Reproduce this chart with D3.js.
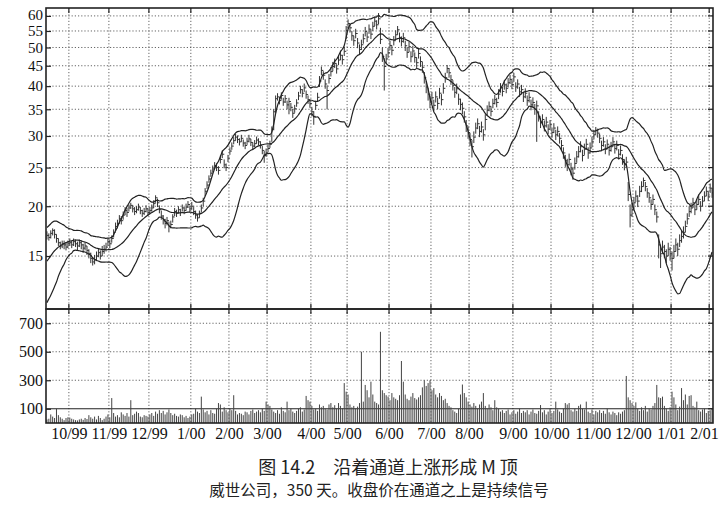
<!DOCTYPE html>
<html><head><meta charset="utf-8">
<script src="https://cdn.jsdelivr.net/npm/d3@7"></script>
<style>body{margin:0;background:#fff}</style>
</head><body><svg id="c" width="725" height="508"></svg>
<script>
const monthLabels = ["10/99","11/99","12/99","1/00","2/00","3/00","4/00","5/00","6/00","7/00","8/00","9/00","10/00","11/00","12/00","1/01","2/01"];
const monthDays = [12,33,54,76,96,116,139,158,180,202,222,245,265,287,308,328,348];
const priceTicks = [15,20,25,30,35,40,45,50,55,60];
const volumeTicks = [100,300,500,700];
const titleText = "图 14.2　沿着通道上涨形成 M 顶";
const subtitleText = "威世公司，350 天。收盘价在通道之上是持续信号";
// closes of the 19 days before the window (seed the 20-day bands)
const preClose = [12.4,12.6,12.5,12.9,13.2,13.0,13.5,13.8,14.2,14.0,14.6,15.0,15.3,15.1,15.8,16.2,16.5,16.8,17.2];
const close = [
16.9,16.7,17.1,17.4,17.0,16.6,16.2,15.9,16.1,16.0,15.8,16.1,16.2,16.0,16.3,16.1,15.9,16.2,16.0,15.7,15.9,
15.5,15.2,14.8,14.5,14.7,15.0,15.3,15.0,15.4,15.6,15.8,16.3,16.1,16.6,17.2,17.8,18.1,18.6,18.4,19.0,19.5,19.3,
19.8,20.1,19.7,19.4,19.6,19.9,19.5,19.2,19.4,19.7,19.3,19.5,19.8,20.3,21.0,20.4,19.6,18.9,18.5,18.1,18.4,17.8,18.0,
18.8,19.4,19.2,19.6,19.3,19.8,19.5,19.9,20.2,19.7,20.0,19.4,19.0,18.7,19.2,19.8,20.6,21.8,22.6,23.4,24.2,24.8,25.3,
25.0,24.6,26.2,27.0,25.4,25.0,26.4,27.5,28.3,29.2,29.8,29.4,29.0,29.6,28.8,28.4,29.1,29.5,28.9,28.3,28.7,29.3,29.0,28.5,
27.6,26.8,27.2,27.9,28.6,31.2,34.5,37.2,37.6,36.8,37.9,36.5,37.2,35.9,36.6,35.4,34.2,35.1,36.3,
37.8,39.2,38.4,39.6,38.1,37.0,36.2,34.5,33.6,35.8,37.5,41.2,43.8,42.6,40.5,39.0,41.8,
43.5,44.8,45.6,44.2,46.5,47.8,46.6,48.9,55.2,57.4,56.0,53.5,52.0,54.2,51.3,49.4,50.8,52.6,
54.8,53.1,55.6,54.0,56.5,58.2,57.0,59.0,52.4,47.5,44.8,46.8,48.5,50.6,49.2,52.0,53.8,
55.4,53.0,51.8,52.9,50.5,48.6,50.2,47.4,49.0,47.2,45.8,48.3,46.1,44.6,42.0,39.8,38.2,36.5,37.4,
35.8,37.6,36.2,38.4,37.0,39.5,42.0,44.3,43.2,41.5,40.2,38.6,39.4,37.1,36.0,35.2,33.5,31.8,30.6,29.4,28.2,
29.8,31.4,32.2,30.8,31.6,30.2,33.0,34.8,35.6,34.6,36.2,37.0,36.4,38.2,39.6,38.8,40.3,39.5,40.8,41.6,40.4,42.2,
39.8,40.5,38.7,39.2,37.6,38.4,36.8,37.5,35.9,36.4,35.0,35.7,33.6,32.4,33.0,31.8,32.5,
31.2,32.0,30.6,31.4,30.2,30.8,29.6,28.4,27.2,26.0,25.4,26.2,24.8,24.2,25.6,26.6,
27.4,28.2,26.8,27.8,28.6,27.2,28.0,29.0,30.2,31.0,30.5,29.6,28.4,29.0,27.8,28.6,27.6,28.2,29.0,27.9,28.4,
27.0,27.6,26.2,25.4,25.8,21.4,19.0,19.6,20.4,21.2,20.6,21.8,22.4,23.2,22.4,21.6,21.0,20.2,20.8,19.6,18.8,
16.0,15.2,15.8,15.4,15.0,15.6,15.2,14.8,15.4,16.0,15.6,16.4,16.8,17.2,17.8,18.6,19.4,
19.8,20.4,19.6,20.2,20.8,20.0,20.6,21.2,21.8,21.2,22.2,21.6];
const high = [
17.3,17.1,17.4,17.6,17.5,17.0,16.6,16.3,16.4,16.4,16.2,16.4,16.6,16.4,16.6,16.5,16.3,16.5,16.4,16.1,16.2,
15.9,15.6,15.3,14.9,15.1,15.4,15.7,15.5,15.9,16.0,16.2,16.6,16.5,16.9,17.5,18.2,18.5,19.0,18.9,19.4,19.9,19.8,
20.2,20.4,20.1,19.9,20.0,20.3,19.9,19.6,19.8,20.1,19.8,19.9,20.2,20.7,21.3,20.9,20.1,19.5,19.0,18.6,18.8,18.3,18.4,
19.1,19.8,19.6,20.0,19.7,20.2,19.9,20.3,20.6,20.1,20.5,19.9,19.5,19.1,19.5,20.2,21.0,22.2,23.1,23.9,24.7,25.3,25.8,
25.6,25.2,26.8,27.6,26.2,25.6,26.9,28.1,28.9,29.8,30.4,30.1,29.6,30.2,29.4,29.0,29.7,30.2,29.5,28.9,29.3,29.9,29.6,29.1,
28.3,27.5,27.9,28.5,29.2,31.7,35.0,37.9,38.4,37.6,38.6,37.4,38.0,36.8,37.4,36.3,35.1,35.9,37.1,
38.7,40.1,39.3,40.6,39.0,37.9,37.1,35.5,34.6,36.8,38.5,42.4,44.8,43.6,41.6,40.2,42.9,
44.7,46.0,46.9,45.4,47.8,49.1,47.9,50.2,56.6,58.8,57.5,55.0,53.5,55.7,52.8,50.9,52.3,54.1,
56.3,54.6,57.1,55.5,58.0,59.8,58.5,61.0,56.0,50.0,47.0,48.2,49.9,52.0,50.6,53.4,55.2,
56.6,54.5,53.3,54.4,52.0,50.1,51.7,48.9,50.5,48.6,47.2,49.7,47.5,46.0,43.4,41.2,39.6,37.8,38.7,
37.0,38.8,37.4,39.6,38.2,40.7,43.2,45.2,44.4,42.7,41.4,39.8,40.6,38.3,37.2,36.4,34.6,32.9,31.7,30.5,29.3,
30.8,32.4,33.2,31.8,32.6,31.2,34.0,35.8,36.6,35.6,37.2,38.0,37.4,39.3,40.7,39.9,41.4,40.6,41.9,42.7,41.5,43.2,
40.9,41.6,39.8,40.3,38.7,39.5,37.9,38.6,37.0,37.5,36.1,36.8,34.6,33.4,34.0,32.8,33.5,
32.1,32.9,31.5,32.3,31.1,31.7,30.5,29.3,28.1,26.9,26.3,27.1,25.7,25.1,26.5,27.5,
28.3,29.1,27.7,28.7,29.5,28.1,28.9,29.9,31.0,31.6,31.3,30.4,29.2,29.8,28.6,29.4,28.4,29.0,29.8,28.7,29.2,
27.8,28.4,27.0,26.2,26.6,23.0,20.2,20.4,21.1,21.9,21.3,22.5,23.1,23.6,23.0,22.2,21.6,20.8,21.4,20.2,19.4,
17.0,16.0,16.4,16.0,15.6,16.2,15.8,15.4,16.0,16.6,16.2,17.0,17.4,17.8,18.4,19.2,20.0,
20.4,21.0,20.2,20.8,21.4,20.6,21.2,21.8,22.4,21.8,22.8,22.2];
const low = [
16.5,16.4,16.6,16.9,16.6,16.2,15.9,15.6,15.7,15.6,15.5,15.7,15.9,15.7,15.9,15.8,15.5,15.8,15.6,15.3,15.5,
15.1,14.8,14.4,14.2,14.3,14.6,14.9,14.7,15.0,15.2,15.4,15.9,15.7,16.2,16.7,17.3,17.6,18.1,18.0,18.5,19.0,18.8,
19.4,19.7,19.3,19.0,19.2,19.5,19.1,18.8,19.0,19.3,18.9,19.1,19.4,19.8,20.4,19.9,19.2,18.5,18.0,17.6,17.9,17.2,17.6,
18.2,18.9,18.8,19.2,18.9,19.4,19.1,19.5,19.8,19.3,19.6,19.0,18.6,18.3,18.7,19.3,20.0,21.2,22.1,22.9,23.7,24.3,24.8,
24.5,24.0,25.6,26.4,24.9,24.5,25.8,26.9,27.7,28.6,29.2,28.8,28.4,29.0,28.2,27.8,28.5,28.9,28.3,27.7,28.1,28.7,28.4,27.9,
27.0,25.7,26.6,27.3,28.0,29.0,31.0,34.3,36.8,36.0,37.0,35.7,36.3,35.0,34.0,34.6,33.3,34.3,35.5,
36.9,38.3,37.5,38.7,37.2,36.1,35.3,33.6,32.0,34.9,36.6,39.8,42.6,41.5,39.4,35.0,40.6,
42.3,43.6,44.4,43.0,45.2,46.5,45.3,47.6,52.5,55.8,54.5,52.0,50.5,52.7,49.8,47.9,49.3,51.1,
53.3,51.6,54.1,52.5,55.0,56.6,55.5,57.2,51.0,46.0,39.0,45.4,47.1,49.2,47.8,50.6,52.4,
53.8,51.5,50.3,51.4,49.0,47.1,48.7,45.9,47.5,45.8,44.4,46.9,44.7,43.2,40.6,38.4,36.8,35.2,36.1,
34.6,36.4,35.0,37.2,35.8,38.3,40.8,43.1,42.0,40.3,39.0,37.4,38.2,35.9,34.8,34.0,32.4,30.7,29.5,28.3,26.5,
28.8,30.4,31.2,29.8,30.6,29.2,31.0,33.8,34.6,33.6,35.2,36.0,35.4,37.1,38.5,37.7,39.2,38.4,39.7,40.5,39.3,41.0,
38.7,39.4,37.6,38.1,36.5,37.3,35.7,36.4,34.8,35.3,33.9,29.0,32.6,31.4,32.0,30.8,31.5,
30.3,31.1,29.7,30.5,29.3,29.9,28.7,27.5,26.3,25.1,24.5,25.3,23.9,23.3,24.7,25.7,
26.5,27.3,25.9,26.9,27.7,26.3,27.1,28.1,29.4,30.2,29.7,28.8,27.6,28.2,27.0,27.8,26.8,27.4,28.2,27.1,27.6,
26.2,26.8,25.4,24.6,25.0,20.6,17.7,18.8,19.7,20.5,19.9,21.1,21.7,22.4,21.8,21.0,20.4,19.6,20.2,19.0,18.2,
14.8,14.0,15.2,14.8,14.4,15.0,14.6,13.8,14.8,15.4,15.0,15.8,16.2,16.6,17.2,18.0,18.8,
19.2,19.8,19.0,19.6,20.2,19.4,20.0,20.6,21.2,20.6,21.6,21.0];
const volume = [
25,30,60,45,35,100,55,40,30,20, 35,40,38,30,25,20,18,25,30,22, 35,28,55,40,30,45,25,50,35,20,
30,45,60,40,175,70,45,55,40,75, 60,50,70,45,160,55,65,80,70,45, 40,55,50,45,60,70,50,80,65,90,
70,85,60,75,95,70,55,65,50,45, 60,55,40,50,35,45,60,65,100,80, 70,185,95,75,85,60,90,70,65,100,
140,130,80,110,90,75,100,90,195,85, 60,70,65,55,80,75,60,85,95,70, 80,90,75,100,85,150,130,120,95,80,
70,90,65,110,85,75,150,90,100,80, 70,85,100,110,80,95,190,160,150,120, 95,100,85,130,110,120,100,95,130,140,
110,125,100,140,120,105,280,220,200,130, 110,120,100,115,140,500,150,267,230,180, 290,200,150,140,130,640,230,210,195,185,
160,210,180,170,160,195,435,290,200,170, 160,185,210,175,165,180,195,250,300,260, 280,300,230,245,200,180,210,190,160,170,
140,120,110,90,80,70,100,200,270,210, 180,150,130,115,140,120,100,130,150,210, 120,100,130,110,90,160,110,100,80,90,
70,85,95,60,75,90,65,80,100,70, 85,75,90,60,80,95,70,65,85,126, 75,90,60,80,100,70,85,150,95,80,
70,100,140,130,140,90,80,100,85,120, 130,100,95,150,80,70,95,60,85,75, 90,70,85,65,100,75,60,80,70,55,
75,65,80,90,330,180,160,140,120,145, 100,85,110,90,120,80,100,95,120,140, 267,180,175,185,120,100,85,110,220,180,
130,90,115,245,160,200,130,190,195,120, 110,150,90,80,95,100,70,85,90,100];
const bandPeriod = 20, bandK = 2;

const L = 46, R = 713, T = 8, MID = 309, B = 423;
const svg = d3.select("#c");
const x = d3.scaleLinear().domain([0, close.length]).range([L, R]);
const y = d3.scaleLog().domain([11.05, 62.8]).range([MID, T]);
const yv = d3.scaleLinear().domain([0, 800]).range([B, MID]);

// Bollinger bands from closes
const all = preClose.concat(close);
const bands = close.map((c, i) => {
  const w = all.slice(i + preClose.length - bandPeriod + 1, i + preClose.length + 1);
  const m = d3.mean(w);
  const sd = Math.sqrt(d3.mean(w, v => (v - m) * (v - m)));
  return {i, m, u: m + bandK * sd, l: m - bandK * sd};
});

const grid = svg.append("g").attr("stroke", "#555").attr("stroke-width", 0.9).attr("stroke-dasharray", "1.2,2");
grid.selectAll("line.hp").data(priceTicks).join("line").attr("class","hp")
  .attr("x1", L).attr("x2", R).attr("y1", d => y(d)).attr("y2", d => y(d));
grid.selectAll("line.hv").data(volumeTicks.filter(d => d !== 100)).join("line").attr("class","hv")
  .attr("x1", L).attr("x2", R).attr("y1", d => yv(d)).attr("y2", d => yv(d));
grid.selectAll("line.v").data(monthDays).join("line").attr("class","v")
  .attr("x1", d => x(d)).attr("x2", d => x(d)).attr("y1", T).attr("y2", B);

svg.append("line").attr("x1", L).attr("x2", R).attr("y1", yv(100)).attr("y2", yv(100))
  .attr("stroke", "#222").attr("stroke-width", 1.1);

svg.append("clipPath").attr("id", "pc").append("rect").attr("x", L).attr("y", T).attr("width", R - L).attr("height", MID - T);
const pg = svg.append("g").attr("clip-path", "url(#pc)");
const bars = pg.append("g").attr("stroke", "#333").attr("stroke-width", 1);
bars.selectAll("line.hl").data(close).join("line").attr("class","hl")
  .attr("x1", (d,i) => x(i + 0.5)).attr("x2", (d,i) => x(i + 0.5))
  .attr("y1", (d,i) => y(high[i])).attr("y2", (d,i) => y(low[i]));
bars.selectAll("line.cl").data(close).join("line").attr("class","cl")
  .attr("x1", (d,i) => x(i + 0.5)).attr("x2", (d,i) => x(i + 0.5) + 2)
  .attr("y1", d => y(d)).attr("y2", d => y(d));

const lineGen = key => d3.line().x(d => x(d.i + 0.5)).y(d => y(d[key])).curve(d3.curveMonotoneX);
["u","m","l"].forEach(k => {
  pg.append("path").datum(bands).attr("d", lineGen(k)).attr("fill", "none")
    .attr("stroke", "#222").attr("stroke-width", 1.2);
});

svg.append("g").attr("stroke", "#444").attr("stroke-width", 1)
  .selectAll("line").data(volume).join("line")
  .attr("x1", (d,i) => x(i + 0.5)).attr("x2", (d,i) => x(i + 0.5))
  .attr("y1", yv(0)).attr("y2", d => yv(d));

const frame = svg.append("g").attr("fill", "none").attr("stroke", "#222").attr("stroke-width", 1.6);
frame.append("rect").attr("x", L).attr("y", T).attr("width", R - L).attr("height", MID - T);
frame.append("rect").attr("x", L).attr("y", MID).attr("width", R - L).attr("height", B - MID);

const tk = svg.append("g").attr("stroke", "#222").attr("stroke-width", 1.2);
tk.selectAll("line.t").data(monthDays).join("line").attr("class","t")
  .attr("x1", d => x(d)).attr("x2", d => x(d)).attr("y1", T).attr("y2", T + 5);
tk.selectAll("line.m").data(monthDays).join("line").attr("class","m")
  .attr("x1", d => x(d)).attr("x2", d => x(d)).attr("y1", MID - 5).attr("y2", MID + 5);
tk.selectAll("line.r").data(priceTicks).join("line").attr("class","r")
  .attr("x1", R - 5).attr("x2", R).attr("y1", d => y(d)).attr("y2", d => y(d));
tk.selectAll("line.rv").data(volumeTicks).join("line").attr("class","rv")
  .attr("x1", R - 5).attr("x2", R).attr("y1", d => yv(d)).attr("y2", d => yv(d));

const font = "'Liberation Serif', 'DejaVu Serif', serif";
const ay = svg.append("g").attr("transform", `translate(${L},0)`)
  .call(d3.axisLeft(y).tickValues(priceTicks).tickFormat(d3.format("d")).tickSize(-5).tickPadding(3));
const av = svg.append("g").attr("transform", `translate(${L},0)`)
  .call(d3.axisLeft(yv).tickValues(volumeTicks).tickFormat(d3.format("d")).tickSize(-5).tickPadding(3));
const ax = svg.append("g").attr("transform", `translate(0,${B})`)
  .call(d3.axisBottom(x).tickValues(monthDays).tickFormat((d,i) => monthLabels[i]).tickSize(0).tickPadding(5));
[ay, av, ax].forEach(g => {
  g.select(".domain").remove();
  g.selectAll(".tick line").attr("stroke", "#222").attr("stroke-width", 1.2);
  g.selectAll("text").attr("font-family", font).attr("font-size", 16).attr("fill", "#111");
});
// tightly stacked log labels: slightly smaller, top one nudged up
ay.selectAll("text").attr("font-size", 15);
ay.selectAll(".tick text").filter(d => d === 60).attr("dy", "0.25em");
ax.selectAll(".tick text").filter((d,i) => i === monthLabels.length - 1).attr("text-anchor", "end").attr("dx", 9);

svg.append("text").attr("x", 388).attr("y", 474).attr("text-anchor", "middle")
  .attr("font-family", "'Noto Sans CJK SC', sans-serif").attr("font-size", 18).attr("fill", "#222")
  .text(titleText);
svg.append("text").attr("x", 379).attr("y", 496).attr("text-anchor", "middle")
  .attr("font-family", "'Noto Sans CJK SC', sans-serif").attr("font-size", 15.5).attr("fill", "#222")
  .text(subtitleText);
</script></body></html>
